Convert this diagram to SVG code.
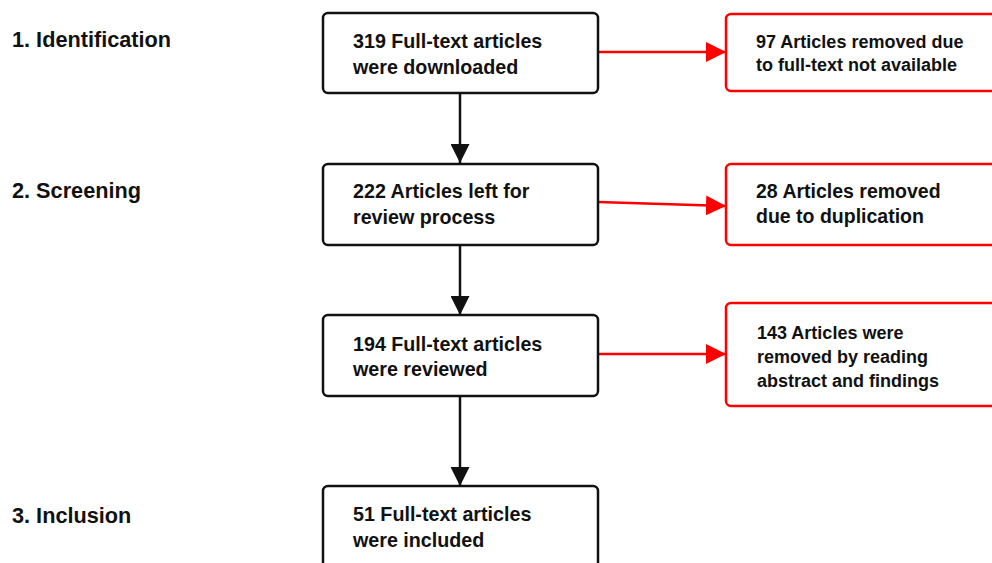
<svg xmlns="http://www.w3.org/2000/svg" width="992" height="563" viewBox="0 0 992 563">
<style>
.bg{fill:#fff}
.box{fill:#fff;stroke:#111;stroke-width:2.5}
.rbox{fill:#fff;stroke:#ff0000;stroke-width:2.5}
.t{font-family:"Liberation Sans",Arial,sans-serif;font-weight:bold;fill:#111}
.lbl{font-size:21.7px}
.bt{font-size:19.7px}
.rt{font-size:18px}
.rt2{font-size:19.5px}
.blk{stroke:#111;stroke-width:2.5;fill:none}
.red{stroke:#ff0000;stroke-width:2.5;fill:none}
</style>
<defs>
<marker id="ab" viewBox="0 0 10 10" refX="10" refY="5" markerWidth="19" markerHeight="19" markerUnits="userSpaceOnUse" orient="auto"><path d="M0,0 L10,5 L0,10 Z" fill="#111"/></marker>
<marker id="ar" viewBox="0 0 10 10" refX="10" refY="5" markerWidth="20" markerHeight="20" markerUnits="userSpaceOnUse" orient="auto"><path d="M0,0 L10,5 L0,10 Z" fill="#ff0000"/></marker>
</defs>
<rect class="bg" x="0" y="0" width="992" height="563"/>
<g id="labels">
<text class="t lbl" x="12" y="47">1. Identification</text>
<text class="t lbl" x="12" y="198">2. Screening</text>
<text class="t lbl" x="12" y="523">3. Inclusion</text>
</g>
<g id="connectors">
<line class="blk" x1="460" y1="93" x2="460" y2="163" marker-end="url(#ab)"/>
<line class="blk" x1="460" y1="245" x2="460" y2="315" marker-end="url(#ab)"/>
<line class="blk" x1="460" y1="396" x2="460" y2="486" marker-end="url(#ab)"/>
<line class="red" x1="598" y1="52" x2="726" y2="52" marker-end="url(#ar)"/>
<line class="red" x1="598" y1="202" x2="726" y2="206" marker-end="url(#ar)"/>
<line class="red" x1="598" y1="354" x2="726" y2="354" marker-end="url(#ar)"/>
</g>
<g id="n1">
<rect class="box" x="323" y="13" width="275" height="80" rx="5"/>
<text class="t bt" x="353" y="48">319 Full-text articles</text>
<text class="t bt" x="353" y="74">were downloaded</text>
</g>
<g id="n2">
<rect class="box" x="323" y="164" width="275" height="81" rx="5"/>
<text class="t bt" x="353" y="198">222 Articles left for</text>
<text class="t bt" x="353" y="224">review process</text>
</g>
<g id="n3">
<rect class="box" x="323" y="315" width="275" height="81" rx="5"/>
<text class="t bt" x="353" y="351">194 Full-text articles</text>
<text class="t bt" x="353" y="376">were reviewed</text>
</g>
<g id="n4">
<rect class="box" x="323" y="486" width="275" height="90" rx="5"/>
<text class="t bt" x="353" y="521">51 Full-text articles</text>
<text class="t bt" x="353" y="547">were included</text>
</g>
<g id="r1">
<rect class="rbox" x="726" y="14" width="290" height="77" rx="5"/>
<text class="t rt" x="756" y="48">97 Articles removed due</text>
<text class="t rt" x="756" y="71">to full-text not available</text>
</g>
<g id="r2">
<rect class="rbox" x="726" y="164" width="290" height="81" rx="5"/>
<text class="t rt2" x="756" y="198">28 Articles removed</text>
<text class="t rt2" x="756" y="223">due to duplication</text>
</g>
<g id="r3">
<rect class="rbox" x="726" y="303" width="290" height="103" rx="5"/>
<text class="t rt" x="757" y="339">143 Articles were</text>
<text class="t rt" x="757" y="363">removed by reading</text>
<text class="t rt" x="757" y="387">abstract and findings</text>
</g>
</svg>
